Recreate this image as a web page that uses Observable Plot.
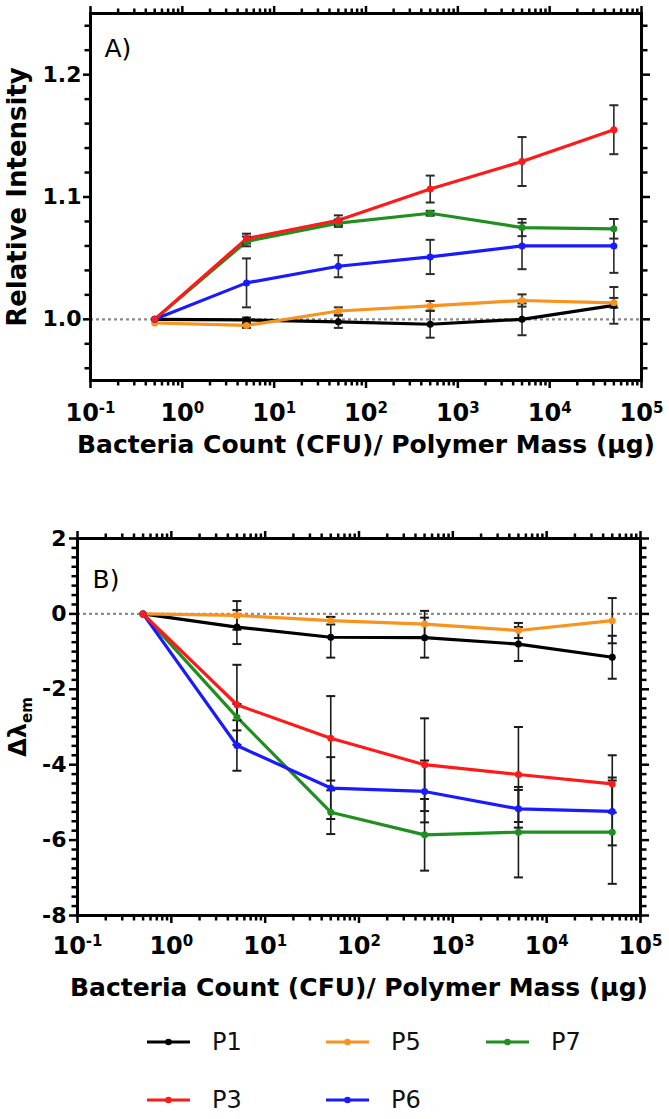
<!DOCTYPE html>
<html><head><meta charset="utf-8">
<script src="https://cdn.jsdelivr.net/npm/d3@7"></script>
<script src="https://cdn.jsdelivr.net/npm/@observablehq/plot@0.6"></script>
<style>
html,body{margin:0;padding:0;background:#fff;}
#root{position:relative;width:669px;height:1119px;overflow:hidden;font-family:"DejaVu Sans",sans-serif;background:#fff;}
#panelA{position:absolute;left:0;top:0;}
#panelB{position:absolute;left:0;top:470px;}
#legend{position:absolute;left:0;top:1010px;width:669px;height:109px;}
.item{position:absolute;display:flex;align-items:center;height:30px;font-size:24px;color:#111;}
.item svg{display:block;}
</style></head><body>
<div id="root"><div id="panelA"></div><div id="panelB"></div><div id="legend"></div></div>
<script>
// ---- data ----
const concentrations = [0.5, 5, 50, 500, 5000, 50000];
const seriesNames = ["P1", "P3", "P5", "P6", "P7"];
const seriesColors = ["#000000", "#ff1a1a", "#f7931e", "#1a1aff", "#1f8f1f"];
const drawOrder = ["P1", "P5", "P7", "P6", "P3"];

// Panel A: relative intensity
const relP1 = [1.000, 0.9995, 0.998, 0.996, 1.000, 1.0114];
const relP1Err = [0, 0.002, 0.005, 0.011, 0.013, 0.015];
const relP3 = [1.000, 1.066, 1.081, 1.1065, 1.129, 1.155];
const relP3Err = [0, 0.004, 0.004, 0.011, 0.020, 0.020];
const relP5 = [0.997, 0.995, 1.0068, 1.011, 1.0154, 1.0135];
const relP5Err = [0, 0.002, 0.003, 0.004, 0.005, 0.004];
const relP6 = [1.000, 1.0298, 1.0434, 1.051, 1.060, 1.060];
const relP6Err = [0, 0.020, 0.009, 0.014, 0.019, 0.022];
const relP7 = [1.000, 1.0637, 1.0786, 1.0867, 1.075, 1.074];
const relP7Err = [0, 0.004, 0.003, 0.002, 0.007, 0.008];

// Panel B: emission shift
const shiftP1 = [0, -0.35, -0.62, -0.63, -0.80, -1.15];
const shiftP1Err = [0, 0.45, 0.54, 0.53, 0.45, 0.57];
const shiftP3 = [0, -2.41, -3.30, -4.00, -4.26, -4.51];
const shiftP3Err = [0, 1.06, 1.12, 1.23, 1.26, 0.76];
const shiftP5 = [0, -0.04, -0.18, -0.27, -0.44, -0.18];
const shiftP5Err = [0, 0.38, 0.10, 0.35, 0.20, 0.60];
const shiftP6 = [0, -3.49, -4.62, -4.71, -5.17, -5.24];
const shiftP6Err = [0, 0.67, 0.82, 0.82, 0.50, 0.90];
const shiftP7 = [0, -2.74, -5.26, -5.86, -5.79, -5.79];
const shiftP7Err = [0, 0.35, 0.58, 0.95, 1.20, 1.37];

// ticks
const xMajorTicks = [0.1, 1, 10, 100, 1000, 10000, 100000];
const xMinorMultipliers = [2, 3, 4, 5, 6, 7, 8, 9];
const yMajorA = [1.0, 1.1, 1.2];
const yMinorA = [0.96, 0.98, 1.02, 1.04, 1.06, 1.08, 1.12, 1.14, 1.16, 1.18, 1.22, 1.24];
const yMajorB = [-8, -6, -4, -2, 0, 2];
const yMinorStepB = 0.25;

const xTitle = "Bacteria Count (CFU)/ Polymer Mass (µg)";
const yTitleA = "Relative Intensity";
const yTitleB = "Δλem";

// ---- helpers ----
const xMinorTicks = xMajorTicks.slice(0, -1).flatMap(d => xMinorMultipliers.map(m => m * d));
const yMinorB = d3.range(-8, 2.0001, yMinorStepB).filter(v => !yMajorB.includes(Math.round(v * 100) / 100));

function tidy(vals, errs) {
  const rows = [];
  for (const name of drawOrder) {
    concentrations.forEach((c, i) => rows.push({series: name, x: c, y: vals[name][i], err: errs[name][i]}));
  }
  return rows;
}
const rowsA = tidy({P1: relP1, P3: relP3, P5: relP5, P6: relP6, P7: relP7},
                   {P1: relP1Err, P3: relP3Err, P5: relP5Err, P6: relP6Err, P7: relP7Err});
const rowsB = tidy({P1: shiftP1, P3: shiftP3, P5: shiftP5, P6: shiftP6, P7: shiftP7},
                   {P1: shiftP1Err, P3: shiftP3Err, P5: shiftP5Err, P6: shiftP6Err, P7: shiftP7Err});

const capSymbol = {draw(ctx, size) { const w = Math.sqrt(size / Math.PI); ctx.moveTo(-w, 0); ctx.lineTo(w, 0); }};

function axes({yMajor, yMinor, yFormat, yTickSize, yPad, xPad}) {
  const sw = 2.5;
  const minor = 5.5, major = 8;
  return [
    Plot.axisX({anchor: "bottom", ticks: xMajorTicks, tickSize: major, tickPadding: xPad, strokeWidth: sw,
      tickFormat: d => "10^" + Math.round(Math.log10(d)), fontSize: 24, fontWeight: "bold", label: null}),
    Plot.axisX({anchor: "bottom", ticks: xMinorTicks, tickSize: minor, strokeWidth: sw, tickFormat: () => "", label: null}),
    Plot.axisX({anchor: "top", ticks: xMajorTicks, tickSize: major, strokeWidth: sw, tickFormat: () => "", label: null}),
    Plot.axisX({anchor: "top", ticks: xMinorTicks, tickSize: minor, strokeWidth: sw, tickFormat: () => "", label: null}),
    Plot.axisY({anchor: "left", ticks: yMajor, tickSize: yTickSize, tickPadding: yPad, strokeWidth: sw,
      tickFormat: yFormat, fontSize: 22, fontWeight: "bold", label: null}),
    Plot.axisY({anchor: "left", ticks: yMinor, tickSize: minor, strokeWidth: sw, tickFormat: () => "", label: null}),
    Plot.axisY({anchor: "right", ticks: yMajor, tickSize: major, strokeWidth: sw, tickFormat: () => "", label: null}),
    Plot.axisY({anchor: "right", ticks: yMinor, tickSize: minor, strokeWidth: sw, tickFormat: () => "", label: null})
  ];
}

function dataMarks(rows, ref, errColor) {
  const withErr = rows.filter(d => d.err > 0);
  return [
    Plot.ruleY([ref], {stroke: "#8c8c8c", strokeWidth: 2.2, strokeDasharray: "3,3"}),
    Plot.line(rows, {x: "x", y: "y", z: "series", stroke: "series", strokeWidth: 3.2}),
    Plot.ruleX(withErr, {x: "x", y1: d => d.y - d.err, y2: d => d.y + d.err, stroke: errColor, strokeWidth: 1.6}),
    Plot.dot(withErr, {x: "x", y: d => d.y - d.err, symbol: capSymbol, r: 4.5, stroke: errColor, strokeWidth: 2}),
    Plot.dot(withErr, {x: "x", y: d => d.y + d.err, symbol: capSymbol, r: 4.5, stroke: errColor, strokeWidth: 2}),
    Plot.dot(rows, {x: "x", y: "y", fill: "series", r: 3.5})
  ];
}

function supTicks(svg) {
  const ns = "http://www.w3.org/2000/svg";
  svg.querySelectorAll('g[aria-label="x-axis tick label"] text').forEach(t => {
    const m = t.textContent.match(/^10\^(-?\d+)$/);
    if (!m) return;
    t.textContent = "";
    const a = document.createElementNS(ns, "tspan"); a.textContent = "10"; t.appendChild(a);
    const b = document.createElementNS(ns, "tspan"); b.textContent = m[1];
    b.setAttribute("dy", "-8"); b.setAttribute("font-size", "15"); t.appendChild(b);
  });
}

const style = {fontFamily: "DejaVu Sans", color: "black", background: "transparent", overflow: "visible"};
const colorScale = {domain: seriesNames, range: seriesColors};

const plotA = Plot.plot({
  width: 669, height: 470, marginTop: 13, marginBottom: 90, marginLeft: 90, marginRight: 28,
  style,
  x: {type: "log", domain: [0.1, 100000]},
  y: {domain: [0.95, 1.25]},
  color: colorScale,
  marks: [
    ...dataMarks(rowsA, 1, "#2a2a2a"),
    Plot.frame({stroke: "black", strokeWidth: 3}),
    ...axes({yMajor: yMajorA, yMinor: yMinorA, yFormat: d3.format(".1f"), yTickSize: 7, yPad: 2, xPad: 15}),
    Plot.text(["A)"], {text: d => d, frameAnchor: "top-left", dx: 14, dy: 26, lineAnchor: "top", fontSize: 25}),
    Plot.text([yTitleA], {text: d => d, frameAnchor: "left", dx: -73, rotate: -90, textAnchor: "middle", lineAnchor: "middle", fontSize: 26, fontWeight: "bold"}),
    Plot.text([xTitle], {text: d => d, frameAnchor: "bottom", dy: 64, textAnchor: "middle", lineAnchor: "middle", fontSize: 25, fontWeight: "bold"})
  ]
});
supTicks(plotA);
document.getElementById("panelA").appendChild(plotA);

const plotB = Plot.plot({
  width: 669, height: 560, marginTop: 68, marginBottom: 115, marginLeft: 77, marginRight: 29,
  style,
  x: {type: "log", domain: [0.1, 100000]},
  y: {domain: [-8, 2]},
  color: colorScale,
  marks: [
    ...dataMarks(rowsB, 0, "#1a1a1a"),
    Plot.frame({stroke: "black", strokeWidth: 3}),
    ...axes({yMajor: yMajorB, yMinor: yMinorB, yFormat: d => String(d), yTickSize: 8, yPad: 3, xPad: 13}),
    Plot.text(["B)"], {text: d => d, frameAnchor: "top-left", dx: 15, dy: 32, lineAnchor: "top", fontSize: 25}),
    Plot.text([yTitleB], {text: d => d, frameAnchor: "left", dx: -59, rotate: -90, textAnchor: "middle", lineAnchor: "middle", fontSize: 24, fontWeight: "bold"}),
    Plot.text([xTitle], {text: d => d, frameAnchor: "bottom", dy: 72, textAnchor: "middle", lineAnchor: "middle", fontSize: 25, fontWeight: "bold"})
  ]
});
supTicks(plotB);
plotB.querySelectorAll("text").forEach(t => {
  if (t.textContent === yTitleB) {
    const ns = "http://www.w3.org/2000/svg";
    t.textContent = "";
    const a = document.createElementNS(ns, "tspan"); a.textContent = "Δλ"; t.appendChild(a);
    const b = document.createElementNS(ns, "tspan"); b.textContent = "em";
    b.setAttribute("dy", "6"); b.setAttribute("font-size", "15"); t.appendChild(b);
  }
});
document.getElementById("panelB").appendChild(plotB);

// ---- legend ----
const legendPos = {P1: [147, 32], P3: [147, 90], P5: [326, 32], P6: [326, 90], P7: [486, 32]};
const legend = document.getElementById("legend");
seriesNames.forEach((name, i) => {
  const [lx, ly] = legendPos[name];
  const div = document.createElement("div");
  div.className = "item";
  div.style.left = lx + "px";
  div.style.top = (ly - 15) + "px";
  const c = seriesColors[i];
  div.innerHTML = `<svg width="43" height="30"><line x1="0" y1="15" x2="43" y2="15" stroke="${c}" stroke-width="3"/><circle cx="21.5" cy="15" r="3.3" fill="${c}"/></svg><span style="margin-left:22px">${name}</span>`;
  legend.appendChild(div);
});
</script>
</body></html>
